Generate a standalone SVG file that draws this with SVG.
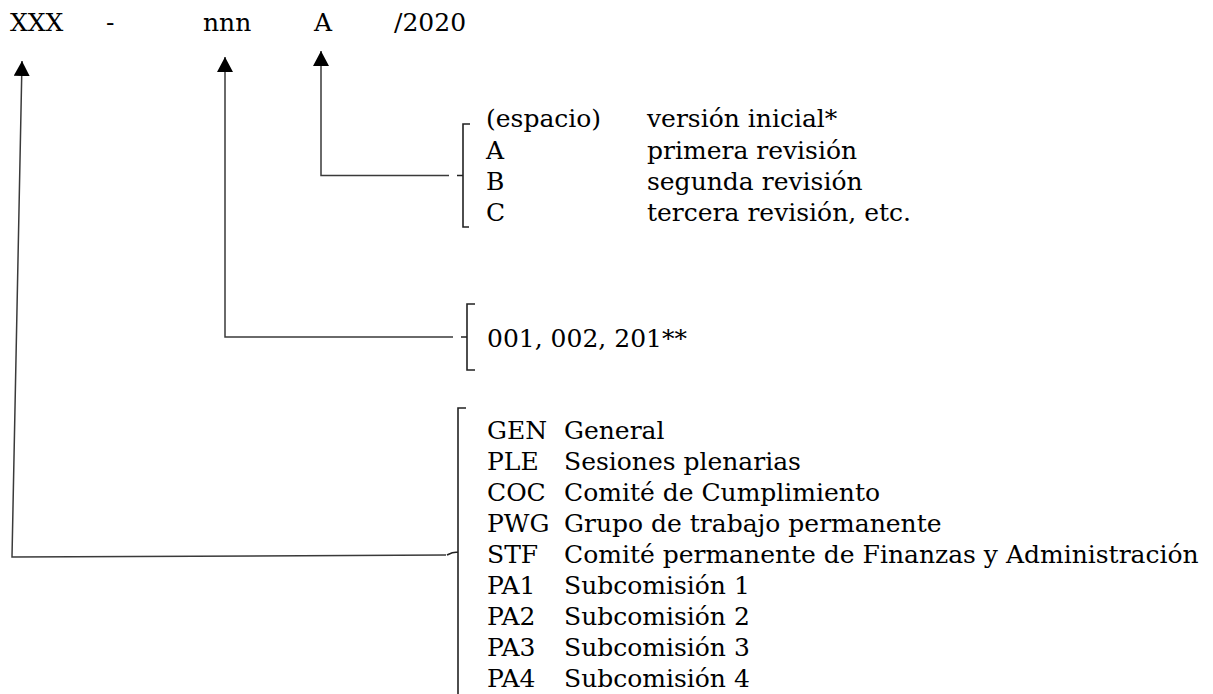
<svg xmlns="http://www.w3.org/2000/svg" width="1213" height="694" viewBox="0 0 1213 694">
<style>
text{font-family:"DejaVu Serif","Liberation Serif",serif;font-size:25px;fill:#000}
.ln{fill:none;stroke:#3a3a3a;stroke-width:1.5}
.br{fill:none;stroke:#222;stroke-width:1.6}
</style>
<defs>
<marker id="ah" markerUnits="userSpaceOnUse" markerWidth="16" markerHeight="16" refX="15" refY="8" orient="auto" viewBox="0 0 16 16">
<path d="M0,0 L15,8 L0,16 z" fill="#000"/>
</marker>
</defs>
<g id="code">
<text x="10" y="31">XXX</text>
<text x="106" y="31">-</text>
<text x="203" y="31">nnn</text>
<text x="314" y="31">A</text>
<text x="394" y="31">/2020</text>
</g>
<g id="connectors">
<polyline class="ln" points="449,175.5 321,175.5 321,51" marker-end="url(#ah)"/>
<polyline class="ln" points="453,337 225,337 225,57" marker-end="url(#ah)"/>
<polyline class="ln" points="446,555 12,557 22,61" marker-end="url(#ah)"/>
</g>
<g id="revision">
<path class="br" d="M470,124 H463 V227 H469 M463,175.5 H457"/>
<text x="486" y="127">(espacio)</text><text x="647" y="127">versión inicial*</text>
<text x="486" y="158.5">A</text><text x="647" y="158.5">primera revisión</text>
<text x="486" y="190">B</text><text x="647" y="190">segunda revisión</text>
<text x="486" y="221">C</text><text x="647" y="221">tercera revisión, etc.</text>
</g>
<g id="number">
<path class="br" d="M475,304 H467 V370 H475 M467,337 H461"/>
<text x="487" y="347">001, 002, 201**</text>
</g>
<g id="organ">
<path class="br" d="M466,408 H458 V700 M458,552 Q452,552 447,555"/>
<text x="487" y="439">GEN</text><text x="564" y="439">General</text>
<text x="487" y="470">PLE</text><text x="564" y="470">Sesiones plenarias</text>
<text x="487" y="501">COC</text><text x="564" y="501">Comité de Cumplimiento</text>
<text x="487" y="532">PWG</text><text x="564" y="532">Grupo de trabajo permanente</text>
<text x="487" y="563">STF</text><text x="564" y="563">Comité permanente de Finanzas y Administración</text>
<text x="487" y="594">PA1</text><text x="564" y="594">Subcomisión 1</text>
<text x="487" y="625">PA2</text><text x="564" y="625">Subcomisión 2</text>
<text x="487" y="656">PA3</text><text x="564" y="656">Subcomisión 3</text>
<text x="487" y="687">PA4</text><text x="564" y="687">Subcomisión 4</text>
</g>
</svg>
